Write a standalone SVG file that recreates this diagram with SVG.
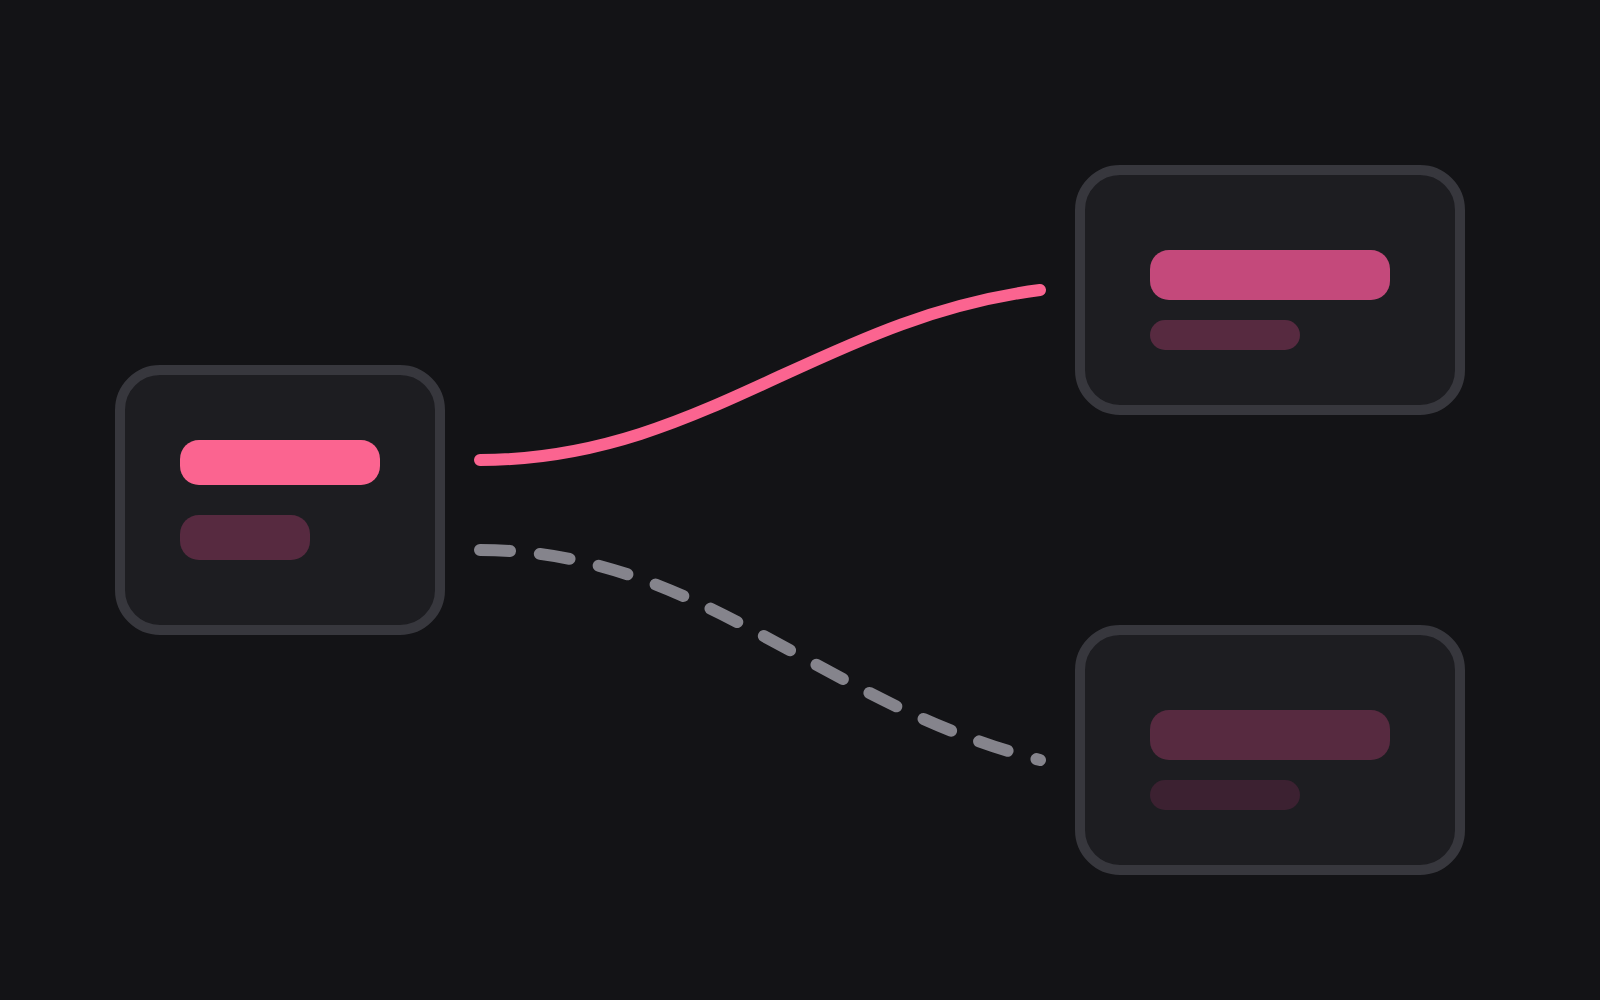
<svg xmlns="http://www.w3.org/2000/svg" width="1600" height="1000" viewBox="0 0 1600 1000">
  <style>
    .card { fill: #1d1d21; stroke: #37373d; stroke-width: 10; }
    .hot { fill: #fb6490; }
    .mid { fill: #c4497b; }
    .dim { fill: #572a40; }
    .dimmer { fill: #3c2131; }
    .link { fill: none; stroke-width: 12; stroke-linecap: round; }
  </style>
  <rect width="1600" height="1000" fill="#131316"/>
  <g id="connectors">
    <path class="link" d="M480 460 C700 460 820 318 1040 290" stroke="#fb6490"/>
    <path class="link" d="M480 550 C700 550 820 704 1040 760" stroke="#85848c" stroke-width="13" stroke-dasharray="30 30"/>
  </g>
  <g id="node-source">
    <rect class="card" x="120" y="370" width="320" height="260" rx="40"/>
    <rect class="hot" x="180" y="440" width="200" height="45" rx="19"/>
    <rect class="dim" x="180" y="515" width="130" height="45" rx="19"/>
  </g>
  <g id="node-active">
    <rect class="card" x="1080" y="170" width="380" height="240" rx="40"/>
    <rect class="mid" x="1150" y="250" width="240" height="50" rx="19"/>
    <rect class="dim" x="1150" y="320" width="150" height="30" rx="15"/>
  </g>
  <g id="node-inactive">
    <rect class="card" x="1080" y="630" width="380" height="240" rx="40"/>
    <rect class="dim" x="1150" y="710" width="240" height="50" rx="19"/>
    <rect class="dimmer" x="1150" y="780" width="150" height="30" rx="15"/>
  </g>
</svg>
